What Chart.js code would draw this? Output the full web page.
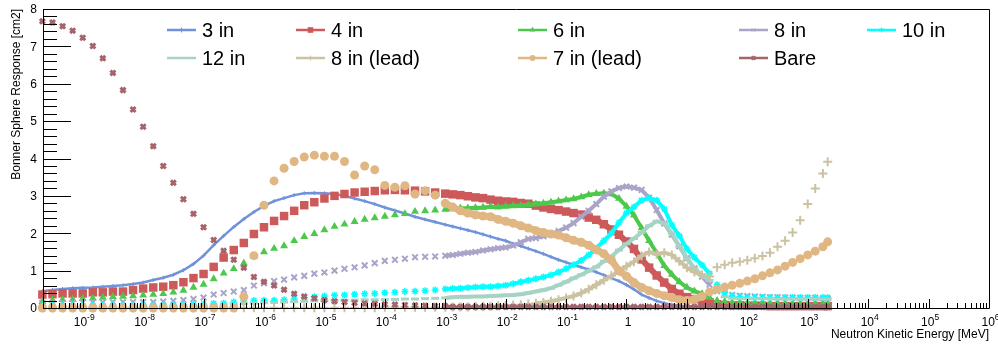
<!DOCTYPE html>
<html>
<head>
<meta charset="utf-8">
<script src="https://cdn.jsdelivr.net/npm/chart.js@4.4.1/dist/chart.umd.min.js"></script>
<style>
html, body { margin: 0; padding: 0; background: #fff; }
#wrap { width: 998px; height: 346px; }
</style>
</head>
<body>
<div id="wrap"><canvas id="myChart" width="998" height="346"></canvas></div>
<script>
//BONNER SPHERE RESPONSE FUNCTIONS, LOG ENERGY AXIS
//==============================================

//neutron energy grid [MeV]
var energy = [
    2.15e-10, 3.16e-10, 4.64e-10, 6.81e-10,
    1e-9, 1.47e-9, 2.15e-9, 3.16e-9, 4.64e-9, 6.81e-9,
    1e-8, 1.47e-8, 2.15e-8, 3.16e-8, 4.64e-8, 6.81e-8,
    1e-7, 1.47e-7, 2.15e-7, 3.16e-7, 4.64e-7, 6.81e-7,
    1e-6, 1.47e-6, 2.15e-6, 3.16e-6, 4.64e-6, 6.81e-6,
    1e-5, 1.47e-5, 2.15e-5, 3.16e-5, 4.64e-5, 6.81e-5,
    1e-4, 1.47e-4, 2.15e-4, 3.16e-4, 4.64e-4, 6.81e-4,
    1e-3,
    1.33e-3, 1.78e-3, 2.37e-3, 3.16e-3, 4.22e-3, 5.62e-3, 7.5e-3,
    1e-2, 1.33e-2, 1.78e-2, 2.37e-2, 3.16e-2, 4.22e-2, 5.62e-2, 7.5e-2,
    0.1, 0.133, 0.178, 0.237, 0.316, 0.422, 0.562, 0.75,
    1, 1.33, 1.78, 2.37, 3.16, 4.22, 5.62, 7.5,
    10, 13.3, 17.8, 23.7, 31.6, 42.2, 56.2, 75,
    100, 133, 178, 237, 316, 422, 562, 750,
    1000, 1330, 1780, 2140
];

//responses [cm2]
var resp3in = [
    0.45, 0.48, 0.51, 0.53,
    0.54, 0.55, 0.57, 0.59, 0.61, 0.64,
    0.68, 0.75, 0.81, 0.89, 1.01, 1.18,
    1.40, 1.68, 1.93, 2.17, 2.38, 2.57,
    2.73, 2.86, 2.94, 3.02, 3.07, 3.08,
    3.07, 3.05, 3.00, 2.93, 2.86, 2.78,
    2.69, 2.61, 2.53, 2.44, 2.37, 2.30,
    2.23,
    2.18, 2.13, 2.08, 2.03, 1.97, 1.91, 1.85,
    1.80, 1.72, 1.66, 1.59, 1.52, 1.45, 1.37, 1.29,
    1.22, 1.15, 1.09, 1.03, 0.96, 0.88, 0.80, 0.72,
    0.62, 0.50, 0.36, 0.27, 0.19, 0.13, 0.09, 0.06,
    0.05, 0.04, 0.03, 0.03, 0.02, 0.02, 0.02, 0.02,
    0.02, 0.02, 0.02, 0.02, 0.02, 0.02, 0.02, 0.02,
    0.02, 0.02, 0.02, 0.02
];
var resp4in = [
    0.36, 0.37, 0.39, 0.39,
    0.39, 0.42, 0.42, 0.44, 0.44, 0.48,
    0.52, 0.55, 0.57, 0.61, 0.69, 0.80,
    0.91, 1.10, 1.35, 1.55, 1.74, 1.98,
    2.16, 2.33, 2.46, 2.60, 2.75, 2.83,
    2.93, 3.00, 3.05, 3.09, 3.11, 3.13,
    3.15, 3.16, 3.15, 3.14, 3.12, 3.09,
    3.06,
    3.04, 3.02, 2.99, 2.96, 2.94, 2.90, 2.87,
    2.85, 2.84, 2.81, 2.79, 2.74, 2.69, 2.65, 2.62,
    2.58, 2.54, 2.50, 2.42, 2.36, 2.24, 2.10, 1.96,
    1.78, 1.58, 1.30, 1.08, 0.87, 0.68, 0.51, 0.38,
    0.29, 0.24, 0.19, 0.15, 0.10, 0.08, 0.07, 0.07,
    0.06, 0.06, 0.06, 0.05, 0.05, 0.05, 0.05, 0.05,
    0.05, 0.05, 0.05, 0.05
];
var resp6in = [
    0.17, 0.21, 0.22, 0.23,
    0.25, 0.26, 0.28, 0.30, 0.31, 0.32,
    0.34, 0.36, 0.38, 0.42, 0.47, 0.55,
    0.63, 0.78, 0.93, 1.05, 1.20, 1.38,
    1.50, 1.59, 1.66, 1.80, 1.91, 1.99,
    2.09, 2.18, 2.24, 2.31, 2.37, 2.41,
    2.45, 2.49, 2.52, 2.58, 2.60, 2.62,
    2.64,
    2.65, 2.67, 2.67, 2.68, 2.69, 2.71, 2.70,
    2.72, 2.73, 2.74, 2.76, 2.78, 2.80, 2.83, 2.86,
    2.89, 2.92, 2.97, 3.03, 3.06, 3.07, 3.05, 2.93,
    2.72, 2.48, 2.14, 1.80, 1.47, 1.13, 0.90, 0.70,
    0.55, 0.45, 0.38, 0.28, 0.20, 0.17, 0.15, 0.15,
    0.14, 0.14, 0.14, 0.13, 0.13, 0.13, 0.12, 0.12,
    0.12, 0.12, 0.12, 0.12
];
var resp8in = [
    0.14, 0.14, 0.14, 0.14,
    0.15, 0.15, 0.15, 0.16, 0.16, 0.16,
    0.16, 0.16, 0.17, 0.19, 0.21, 0.24,
    0.28, 0.36, 0.40, 0.44, 0.48, 0.60,
    0.66, 0.72, 0.76, 0.82, 0.86, 0.92,
    0.95, 1.00, 1.05, 1.09, 1.14, 1.20,
    1.26, 1.29, 1.32, 1.36, 1.37, 1.38,
    1.40,
    1.42, 1.45, 1.48, 1.50, 1.54, 1.57, 1.60,
    1.62, 1.67, 1.76, 1.85, 1.87, 1.92, 1.98, 2.06,
    2.15, 2.27, 2.44, 2.60, 2.78, 2.98, 3.12, 3.21,
    3.25, 3.22, 3.16, 2.95, 2.62, 2.26, 1.96, 1.65,
    1.33, 1.06, 0.84, 0.62, 0.45, 0.38, 0.35, 0.33,
    0.32, 0.31, 0.30, 0.29, 0.29, 0.28, 0.28, 0.27,
    0.27, 0.27, 0.26, 0.26
];
var resp10in = [
    0.06, 0.06, 0.06, 0.06,
    0.06, 0.07, 0.07, 0.07, 0.07, 0.07,
    0.08, 0.08, 0.08, 0.09, 0.09, 0.10,
    0.11, 0.12, 0.13, 0.16, 0.19, 0.20,
    0.21, 0.21, 0.22, 0.24, 0.28, 0.30,
    0.32, 0.34, 0.35, 0.37, 0.38, 0.39,
    0.41, 0.42, 0.44, 0.45, 0.46, 0.48,
    0.51,
    0.52, 0.53, 0.54, 0.56, 0.57, 0.57, 0.59,
    0.61, 0.65, 0.70, 0.74, 0.78, 0.83, 0.88, 0.96,
    1.05, 1.16, 1.27, 1.42, 1.60, 1.80, 2.00, 2.28,
    2.54, 2.70, 2.88, 2.95, 2.88, 2.65, 2.22, 1.93,
    1.58, 1.35, 1.15, 0.92, 0.62, 0.40, 0.32, 0.30,
    0.29, 0.28, 0.28, 0.28, 0.28, 0.28, 0.28, 0.28,
    0.28, 0.28, 0.28, 0.28
];
var resp12in = [
    0.03, 0.03, 0.03, 0.03,
    0.03, 0.03, 0.03, 0.03, 0.03, 0.03,
    0.04, 0.04, 0.04, 0.05, 0.05, 0.05,
    0.06, 0.07, 0.08, 0.10, 0.12, 0.13,
    0.14, 0.15, 0.16, 0.17, 0.18, 0.19,
    0.20, 0.20, 0.21, 0.21, 0.22, 0.22,
    0.23, 0.23, 0.24, 0.24, 0.25, 0.26,
    0.27,
    0.29, 0.30, 0.30, 0.31, 0.31, 0.32, 0.33,
    0.34, 0.35, 0.37, 0.40, 0.44, 0.48, 0.53, 0.61,
    0.70, 0.80, 0.89, 0.99, 1.10, 1.25, 1.38, 1.55,
    1.72, 1.86, 2.02, 2.20, 2.32, 2.27, 2.00, 1.65,
    1.33, 1.05, 0.88, 0.74, 0.45, 0.30, 0.26, 0.25,
    0.25, 0.25, 0.25, 0.25, 0.24, 0.24, 0.24, 0.24,
    0.24, 0.24, 0.24, 0.24
];
var resp8inLead = [
    0.01, 0.01, 0.01, 0.01,
    0.01, 0.01, 0.01, 0.01, 0.01, 0.01,
    0.01, 0.01, 0.01, 0.01, 0.01, 0.01,
    0.01, 0.01, 0.01, 0.01, 0.01, 0.01,
    0.01, 0.01, 0.01, 0.01, 0.01, 0.01,
    0.01, 0.01, 0.01, 0.01, 0.01, 0.01,
    0.02, 0.02, 0.02, 0.02, 0.02, 0.02,
    0.02,
    0.03, 0.03, 0.03, 0.04, 0.04, 0.05, 0.06,
    0.07, 0.08, 0.09, 0.11, 0.13, 0.15, 0.18, 0.22,
    0.27, 0.32, 0.40, 0.50, 0.62, 0.74, 0.86, 0.98,
    1.12, 1.24, 1.40, 1.50, 1.44, 1.48, 1.42, 1.25,
    1.08, 0.96, 0.89, 0.84, 1.09, 1.16, 1.21, 1.24,
    1.28, 1.33, 1.39, 1.48, 1.64, 1.80, 2.02, 2.35,
    2.78, 3.20, 3.60, 3.91
];
var resp7inLead = [
    0, 0, 0, 0,
    0, 0, 0, 0, 0, 0,
    0, 0, 0, 0, 0, 0,
    0, 0, 0, 0, 0.30, 1.40,
    2.75, 3.40, 3.74, 3.92, 4.04, 4.09,
    4.06, 4.06, 3.92, 3.56, 3.80, 3.70,
    3.28, 3.23, 3.27, 3.05, 3.14, 3.02,
    2.80,
    2.70, 2.60, 2.54, 2.49, 2.46, 2.44, 2.37,
    2.32, 2.27, 2.20, 2.14, 2.07, 2.02, 1.98, 1.95,
    1.88, 1.81, 1.76, 1.68, 1.56, 1.45, 1.28, 1.00,
    0.85, 0.68, 0.55, 0.46, 0.39, 0.33, 0.28, 0.22,
    0.20, 0.23, 0.31, 0.43, 0.51, 0.56, 0.61, 0.66,
    0.72, 0.78, 0.86, 0.94, 1.02, 1.12, 1.22, 1.32,
    1.42, 1.52, 1.64, 1.77
];
var respBare = [
    7.67, 7.64, 7.54, 7.42,
    7.23, 7.01, 6.68, 6.29, 5.83, 5.31,
    4.85, 4.33, 3.80, 3.35, 2.91, 2.52,
    2.16, 1.82, 1.53, 1.29, 1.08, 0.83,
    0.70, 0.60, 0.49, 0.38, 0.31, 0.26,
    0.21, 0.18, 0.16, 0.14, 0.12, 0.11,
    0.10, 0.09, 0.08, 0.07, 0.06, 0.05,
    0.05,
    0.03, 0.03, 0.03, 0.03, 0.03, 0.03, 0.03,
    0.03, 0.03, 0.03, 0.03, 0.03, 0.03, 0.03, 0.03,
    0.03, 0.03, 0.03, 0.03, 0.03, 0.03, 0.03, 0.03,
    0.03, 0.03, 0.03, 0.03, 0.03, 0.03, 0.03, 0.03,
    0.03, 0.03, 0.03, 0.03, 0.03, 0.03, 0.03, 0.03,
    0.03, 0.03, 0.03, 0.03, 0.03, 0.03, 0.03, 0.03,
    0.03, 0.03, 0.03, 0.03
];

var seriesLabels = ["3 in", "4 in", "6 in", "8 in", "10 in", "12 in", "8 in (lead)", "7 in (lead)", "Bare"];
var seriesValues = [resp3in, resp4in, resp6in, resp8in, resp10in, resp12in, resp8inLead, resp7inLead, respBare];

//look of each series (ROOT-like markers)
var seriesStyle = [
    {color: "#6f92da", marker: "cross",    r: 2,   bw: 1,   band: 2.5, lo: 0,    hi: 1e4, lr: 2.5, lbw: 1},
    {color: "#cd5a5a", marker: "rect",     r: 6,   bw: 0,   band: 6,   lo: 1e-3, hi: 1e4, lr: 4,   lbw: 0},
    {color: "#4cc94c", marker: "triangle", r: 4.6, bw: 0,   band: 4,   lo: 1e-3, hi: 25,  lr: 3.2, lbw: 0},
    {color: "#aaa4c9", marker: "crossRot", r: 4,   bw: 2,   band: 4,   lo: 1e-3, hi: 25,  lr: 2.5, lbw: 1},
    {color: "#00ffff", marker: "star",     r: 3.5, bw: 1.5, band: 4,   lo: 1e-3, hi: 25,  lr: 2.5, lbw: 1},
    {color: "#a6d3c4", marker: "line",     r: 4,   bw: 3,   band: 4,   lo: 1e-3, hi: 25,  lr: 0,   lbw: 0},
    {color: "#cbc2a2", marker: "cross",    r: 4.5, bw: 2,   band: 4,   lo: 3e-2, hi: 20,  lr: 2.5, lbw: 1},
    {color: "#e0b783", marker: "circle",   r: 4.5, bw: 0,   band: 7,   lo: 1e-3, hi: 20,  lr: 3,   lbw: 0},
    {color: "#a5636b", marker: "crossRot", r: 3.5, bw: 3,   band: 3,   lo: 1e-3, hi: 1e4, lr: 2.5, lbw: 2}
];

var FONT = "'Liberation Sans', Arial, Helvetica, sans-serif";

function buildDatasets() {
    var sets = [];
    for (var i = 0; i < seriesValues.length; i++) {
        var st = seriesStyle[i];
        var pts = energy.map(function (e, k) { return {x: e, y: seriesValues[i][k]}; });
        (function (st) {
            sets.push({
                label: seriesLabels[i],
                data: pts,
                order: seriesValues.length - i,
                showLine: true,
                fill: false,
                clip: false,
                tension: 0,
                borderColor: st.color,
                backgroundColor: st.color,
                borderWidth: st.band,
                pointStyle: st.marker,
                pointRadius: st.r,
                pointBorderWidth: st.bw,
                pointBackgroundColor: st.color,
                pointBorderColor: st.color,
                segment: {
                    borderColor: function (c) {
                        return (c.p0.parsed.x >= st.lo && c.p1.parsed.x <= st.hi) ? st.color : "rgba(0,0,0,0)";
                    }
                }
            });
        })(st);
    }
    return sets;
}

//frame, ticks and labels drawn ROOT style
var rootAxes = {
    id: "rootAxes",
    afterDatasetsDraw: function (chart) {
        var ctx = chart.ctx, a = chart.chartArea;
        var xs = chart.scales.x, ys = chart.scales.y;
        ctx.save();
        ctx.strokeStyle = "#000";
        ctx.lineWidth = 1;
        ctx.beginPath();
        ctx.rect(a.left + 0.5, a.top + 0.5, a.right - a.left, a.bottom - a.top);
        //y ticks
        for (var v = 0; v <= 40; v++) {
            var py = Math.round(ys.getPixelForValue(v * 0.2)) + 0.5;
            var len = (v % 5 === 0) ? 28 : 14;
            ctx.moveTo(a.left, py);
            ctx.lineTo(a.left + len, py);
        }
        //x ticks
        for (var n = -10; n <= 6; n++) {
            for (var m = 1; m <= 9; m++) {
                var val = m * Math.pow(10, n);
                if (val < xs.min || val > xs.max * 1.0001) continue;
                var px = Math.round(xs.getPixelForValue(val)) + 0.5;
                var l = (m === 1) ? 9 : 5;
                ctx.moveTo(px, a.bottom);
                ctx.lineTo(px, a.bottom - l);
            }
        }
        ctx.stroke();
        ctx.restore();
    },
    afterDraw: function (chart) {
        var ctx = chart.ctx, a = chart.chartArea;
        var xs = chart.scales.x, ys = chart.scales.y;
        ctx.save();
        ctx.fillStyle = "#000";
        //y labels
        ctx.font = "12px " + FONT;
        ctx.textAlign = "right";
        ctx.textBaseline = "middle";
        for (var v = 0; v <= 8; v++) {
            ctx.fillText(String(v), a.left - 6, ys.getPixelForValue(v) + 1);
        }
        //x labels
        ctx.textAlign = "left";
        ctx.textBaseline = "alphabetic";
        for (var n = -9; n <= 6; n++) {
            var px = xs.getPixelForValue(Math.pow(10, n));
            var base = (n === 0) ? "1" : "10";
            var exp = (n === 0 || n === 1) ? "" : String(n);
            ctx.font = "12px " + FONT;
            var w1 = ctx.measureText(base).width;
            ctx.font = "8.5px " + FONT;
            var w2 = exp ? ctx.measureText(exp).width : 0;
            var x0 = px - (w1 + w2) / 2 + 1.5;
            ctx.font = "12px " + FONT;
            ctx.fillText(base, x0, a.bottom + 18);
            if (exp) {
                ctx.font = "8.5px " + FONT;
                ctx.fillText(exp, x0 + w1, a.bottom + 12);
            }
        }
        //axis titles
        ctx.font = "12px " + FONT;
        ctx.textAlign = "right";
        ctx.fillText("Neutron Kinetic Energy [MeV]", a.right, 338);
        ctx.save();
        ctx.translate(20, a.top);
        ctx.rotate(-Math.PI / 2);
        ctx.textAlign = "right";
        ctx.fillText("Bonner Sphere Response [cm2]", 0, 0);
        ctx.restore();
        //legend
        var cols = [167, 296, 518, 739, 867];
        var rows = [30, 58];
        var place = [[0, 0], [0, 1], [0, 2], [0, 3], [0, 4], [1, 0], [1, 1], [1, 2], [1, 3]];
        for (var i = 0; i < seriesLabels.length; i++) {
            var st = seriesStyle[i];
            var lx = cols[place[i][1]], ly = rows[place[i][0]];
            ctx.strokeStyle = st.color;
            ctx.lineWidth = 2.5;
            ctx.beginPath();
            ctx.moveTo(lx, ly);
            ctx.lineTo(lx + 29, ly);
            ctx.stroke();
            if (st.lr > 0 && Chart.helpers && Chart.helpers.drawPoint) {
                ctx.fillStyle = st.color;
                ctx.lineWidth = st.lbw;
                Chart.helpers.drawPoint(ctx, {pointStyle: st.marker, radius: st.lr, rotation: 0, borderWidth: st.lbw}, lx + 14.5, ly);
            }
            ctx.fillStyle = "#000";
            ctx.font = "20px " + FONT;
            ctx.textAlign = "left";
            ctx.textBaseline = "middle";
            ctx.fillText(seriesLabels[i], lx + 35, ly + 1);
        }
        ctx.restore();
    }
};

window.onload = main;

function main() {
    var ctx = document.getElementById("myChart").getContext("2d");
    new Chart(ctx, {
        type: "line",
        data: {datasets: buildDatasets()},
        options: {
            responsive: false,
            animation: false,
            events: [],
            layout: {padding: {left: 43, right: 9, top: 9, bottom: 38}},
            plugins: {legend: {display: false}, tooltip: {enabled: false}},
            scales: {
                x: {type: "logarithmic", min: 2.2e-10, max: 1e6, display: false},
                y: {type: "linear", min: 0, max: 8, display: false}
            }
        },
        plugins: [rootAxes]
    });
}
</script>
</body>
</html>
